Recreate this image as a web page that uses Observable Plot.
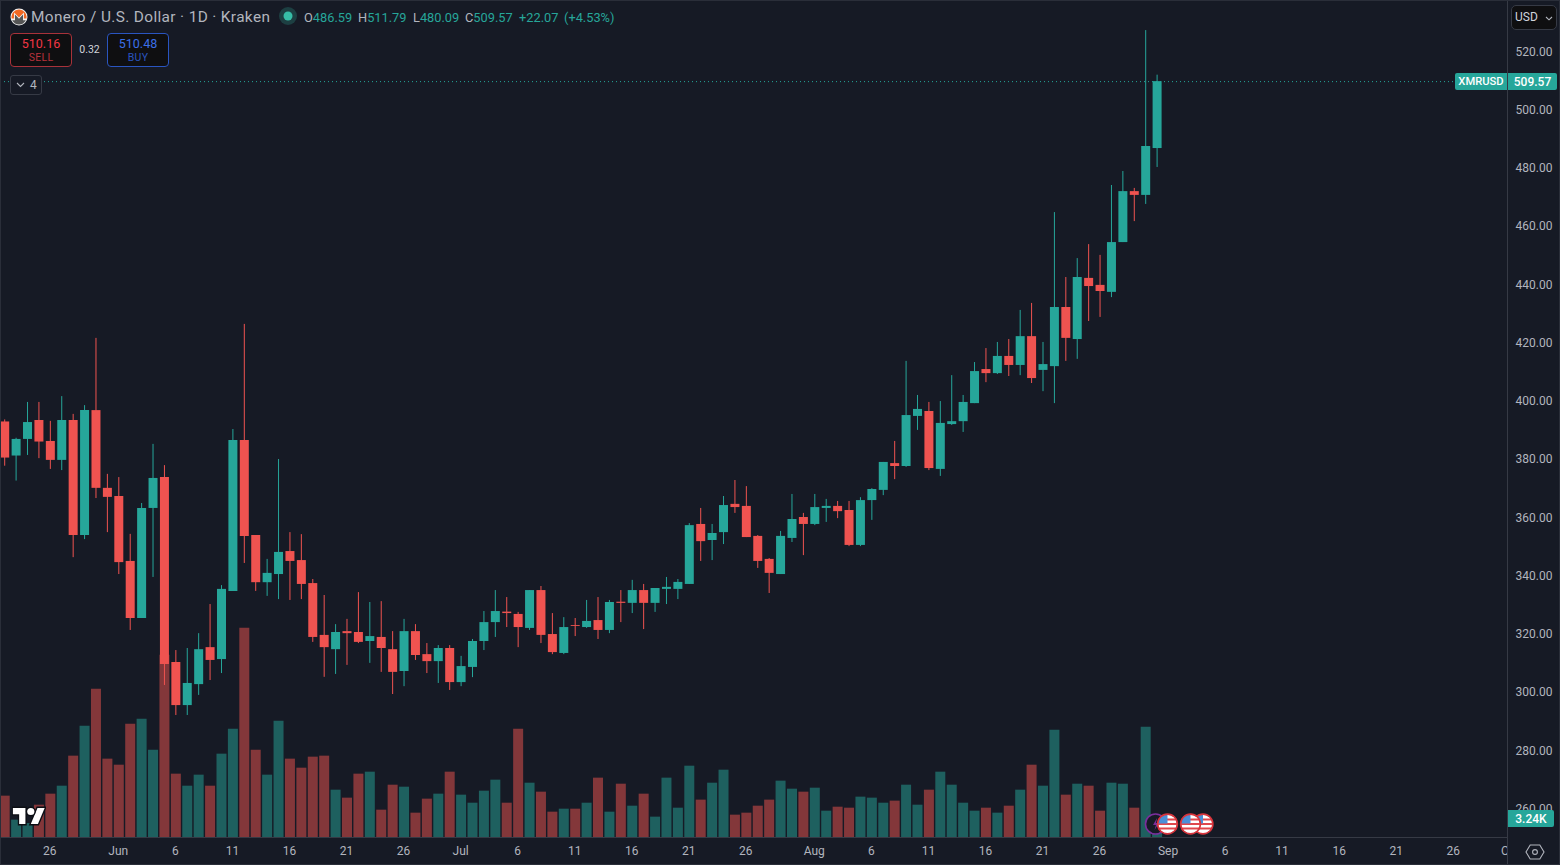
<!DOCTYPE html>
<html>
<head>
<meta charset="utf-8">
<script src="https://cdn.jsdelivr.net/npm/d3@7"></script>
<script src="https://cdn.jsdelivr.net/npm/@observablehq/plot@0.6"></script>
<style>
  html,body{margin:0;padding:0;background:#161a25;}
  #wrap{position:relative;width:1560px;height:865px;overflow:hidden;background:#161a25;font-family:Roboto,sans-serif;}
  #wrap svg.plot{display:block;}
  .abs{position:absolute;box-sizing:border-box;white-space:nowrap;}
  .btn{background:#0f0f11;border-radius:4px;text-align:center;font-size:12.5px;line-height:14px;padding-top:3px;}
  .btn small{display:block;font-size:10.5px;line-height:13px;letter-spacing:.3px;}
  .g{color:#26a69a}
  .ohlc{font-size:12.8px;line-height:17px;top:9px;color:#b2b5be;}
  .chip{background:#26a69a;color:#fff;font-size:12px;font-weight:500;display:flex;align-items:center;justify-content:center;}
</style>
</head>
<body>
<div id="wrap"></div>
<script>
const startDay = "2025-05-22";
const lastPrice = 509.57;
const lastVolume = 3.24;
const opens = [
392.7,381.0,386.7,393.2,386.0,379.5,393.2,353.7,396.6,369.9,
367.1,344.8,325.2,363.0,373.6,310.1,295.3,302.5,315.2,311.1,
334.5,386.3,353.7,337.5,340.3,348.2,345.1,337.2,319.4,314.5,
320.7,320.4,317.3,318.7,314.5,307.0,320.7,312.8,310.4,314.9,
303.2,308.4,317.3,323.8,327.4,326.6,321.8,334.8,319.7,313.2,
322.8,322.1,324.5,321.1,330.8,330.4,334.8,330.4,335.2,335.2,
336.9,357.5,352.0,354.7,364.4,363.7,353.4,345.5,340.3,352.7,
359.9,357.5,363.0,363.7,362.3,350.3,365.7,369.2,378.4,377.4,
394.6,396.3,376.4,391.8,392.8,399.0,410.7,409.3,415.2,412.1,
422.0,410.4,411.7,432.0,421.0,442.0,439.6,437.2,454.3,471.8,
470.5,486.59];
const highs = [
393.4,387.1,399.4,399.4,392.9,401.4,395.3,398.3,421.4,374.7,
373.6,354.1,364.7,385.0,377.7,314.2,314.9,320.0,330.0,336.5,
390.1,426.2,353.7,345.5,379.8,354.7,354.0,338.6,333.1,323.1,
324.9,334.1,330.7,331.0,320.7,324.9,323.1,316.6,315.9,315.9,
312.2,318.0,327.6,334.8,332.4,327.3,334.8,336.2,326.9,325.5,
325.2,331.4,332.4,331.4,334.8,338.3,336.9,335.5,339.3,338.6,
357.8,363.0,357.5,367.1,372.6,370.5,353.7,345.8,355.1,367.8,
361.3,367.8,366.1,365.4,365.4,366.7,369.8,378.8,386.0,413.5,
401.8,399.4,399.7,408.6,401.8,413.1,417.9,420.0,421.0,431.0,
433.4,420.0,464.6,442.3,448.8,453.6,449.9,473.9,478.7,472.9,
527.1,511.79];
const lows = [
377.5,372.4,381.2,380.1,376.4,376.0,346.1,352.3,366.4,354.7,
340.3,321.1,325.2,339.3,302.2,291.9,291.9,298.8,303.9,306.3,
334.5,344.1,334.5,332.8,331.7,331.4,331.7,317.0,305.0,306.0,
309.1,316.6,309.8,306.7,299.1,301.8,310.8,306.3,302.9,300.5,
301.8,304.9,314.2,318.7,322.1,315.2,321.1,316.6,312.8,312.8,
319.0,321.8,318.0,320.0,323.8,326.9,321.4,327.3,330.0,331.7,
336.9,344.8,345.1,350.6,361.3,353.0,342.4,333.8,340.3,351.3,
346.8,357.1,358.2,359.5,349.9,349.9,358.9,367.4,372.9,377.1,
389.8,376.0,374.0,391.5,389.1,399.0,406.2,409.0,408.3,408.6,
405.9,403.1,399.0,413.5,414.2,427.2,428.6,435.4,454.3,461.5,
467.4,480.09];
const closes = [
380.3,386.7,392.5,385.8,379.5,393.2,353.7,396.6,369.9,366.8,
344.4,325.2,363.0,373.3,309.4,295.3,302.9,314.5,310.8,335.2,
386.3,353.4,337.5,340.7,347.9,344.8,336.9,318.7,315.2,320.4,
320.0,317.0,319.0,314.9,306.7,320.7,312.5,310.4,314.9,303.2,
308.7,317.3,323.8,327.6,326.9,322.1,334.8,319.4,313.5,322.1,
322.5,324.2,321.1,330.7,330.4,334.8,330.4,335.5,335.9,337.6,
357.1,351.6,354.4,364.0,363.3,353.0,344.8,340.7,353.4,359.2,
357.5,363.3,363.7,361.9,350.3,365.7,369.5,378.8,377.4,394.9,
397.0,376.7,392.2,392.8,399.4,410.0,409.3,415.2,412.1,422.0,
407.6,412.4,432.0,421.4,442.3,439.2,437.5,454.3,471.8,470.5,
487.3,509.57];
const volumesK = [
7.05,2.96,2.39,5.51,7.39,8.75,13.87,18.98,25.29,13.36,
12.33,19.33,20.18,14.89,31.09,10.80,8.75,10.63,8.75,14.21,
18.47,35.70,14.89,10.63,19.84,13.36,11.82,13.70,13.87,8.07,
6.71,10.80,11.14,4.66,8.92,8.58,4.15,6.54,7.39,11.14,
7.22,5.85,7.90,9.78,5.85,18.47,9.26,7.73,4.32,4.83,
4.83,5.85,10.12,4.32,9.09,5.34,7.39,3.47,10.12,5.00,
12.16,6.37,9.26,11.48,3.81,4.15,5.34,6.37,9.61,8.24,
7.73,8.41,4.49,5.17,5.00,6.88,6.71,5.85,6.20,8.92,
5.51,8.07,11.14,8.92,5.85,4.49,5.00,4.15,5.34,8.07,
12.33,8.75,18.30,7.22,9.09,8.75,4.49,9.26,9.09,5.00,
18.81,3.24];
const priceTicks = [260,280,300,320,340,360,380,400,420,440,460,480,500,520];
const xTickDays = ["05-26","06-01","06-06","06-11","06-16","06-21","06-26","07-01","07-06","07-11","07-16","07-21","07-26","08-01","08-06","08-11","08-16","08-21","08-26","09-01","09-06","09-11","09-16","09-21","09-26","10-01"];
const xTickLabels = ["26","Jun","6","11","16","21","26","Jul","6","11","16","21","26","Aug","6","11","16","21","26","Sep","6","11","16","21","26","Oct"];

const GREEN = "#26a69a", RED = "#ef5350", BG = "#161a25", LINE = "#363a45", TEXT = "#b2b5be";
const DAY = 864e5;
const firstDay = new Date(startDay + "T00:00:00Z");
const junFirst = Date.UTC(2025, 5, 1);
const domainStart = new Date(junFirst - 10.368 * DAY);
const domainEnd = new Date(junFirst + 121.71 * DAY);
const priceFloor = 250, priceCeil = 537.43;
const priceUnitsPerK = 2.014;   // volume pane shares the price axis

const bars = opens.map((o, i) => ({
  date: new Date(+firstDay + i * DAY),
  open: o, high: highs[i], low: lows[i], close: closes[i], vol: volumesK[i],
  up: closes[i] >= o
}));
const tickDates = xTickDays.map(s => new Date("2025-" + s + "T00:00:00Z"));
const tickLabel = new Map(tickDates.map((d, i) => [+d, xTickLabels[i]]));
const col = d => d.up ? GREEN : RED;

const chart = Plot.plot({
  width: 1560, height: 865,
  marginLeft: 0, marginRight: 53, marginTop: 0, marginBottom: 28,
  style: {background: BG, color: TEXT, fontFamily: "Roboto, sans-serif", fontSize: "12px"},
  x: {type: "utc", domain: [domainStart, domainEnd]},
  y: {domain: [priceFloor, priceCeil]},
  marks: [
    Plot.ruleX(bars, {x: "date", y1: priceFloor, y2: d => priceFloor + d.vol * priceUnitsPerK,
      stroke: col, strokeOpacity: 0.5, strokeWidth: 10}),
    Plot.ruleY([lastPrice], {stroke: GREEN, strokeDasharray: "1,3", strokeWidth: 1}),
    Plot.ruleX(bars, {x: "date", y1: "low", y2: "high", stroke: col, strokeWidth: 1}),
    Plot.ruleX(bars, {x: "date", y1: "open", y2: "close", stroke: col, strokeWidth: 9}),
    Plot.ruleY([priceFloor], {stroke: LINE, strokeWidth: 1}),
    Plot.ruleX([domainEnd], {y1: priceFloor, y2: priceCeil, stroke: LINE, strokeWidth: 1}),
    Plot.axisX({ticks: tickDates, tickFormat: d => tickLabel.get(+d), tickSize: 0, tickPadding: 9, label: null, fill: TEXT, dx: -0.5}),
    Plot.axisY({anchor: "right", ticks: priceTicks, tickFormat: d => d.toFixed(2), tickSize: 0, tickPadding: 8, label: null, fill: TEXT, dy: 0.6})
  ]
});

const wrap = document.getElementById("wrap");
wrap.appendChild(chart);
const yPx = chart.scale("y").apply(lastPrice);

const overlay = `
<div class="abs" style="left:1508px;top:838px;width:52px;height:27px;background:${BG}"></div>
<div class="abs" style="left:1507px;top:837px;width:1px;height:28px;background:${LINE}"></div>

<svg class="abs" style="left:10px;top:8px" width="18" height="18" viewBox="0 0 18 18">
  <circle cx="9" cy="9" r="8.5" fill="#f2f2f2"/>
  <path d="M2.2 12.2H5V6.6L9 10.8l4-4.2v5.6h2.8A8 8 0 0 1 9 16.5a8 8 0 0 1-6.8-4.3z" fill="#555"/>
  <path d="M9 1.5A7.5 7.5 0 0 0 1.6 10.5H4.1V4.4L9 9.4l4.9-5v6.1h2.5A7.5 7.5 0 0 0 9 1.5z" fill="#f26822"/>
</svg>
<div class="abs" style="left:31px;top:8px;font-size:15.4px;letter-spacing:.36px;line-height:19px;color:${TEXT}">Monero / U.S. Dollar · 1D · Kraken</div>
<svg class="abs" style="left:278px;top:6px" width="20" height="20"><circle cx="10" cy="10" r="9" fill="#1d3f42"/><circle cx="10" cy="10" r="4.5" fill="#37bda7"/></svg>
<div class="abs ohlc" style="left:304px">O<span class="g">486.59</span></div>
<div class="abs ohlc" style="left:358px">H<span class="g">511.79</span></div>
<div class="abs ohlc" style="left:413px">L<span class="g">480.09</span></div>
<div class="abs ohlc" style="left:465px">C<span class="g">509.57</span></div>
<div class="abs ohlc g" style="left:519px;color:#26a69a">+22.07</div>
<div class="abs ohlc g" style="left:564px;color:#26a69a">(+4.53%)</div>

<div class="abs btn" style="left:10px;top:33px;width:62px;height:34px;border:1px solid #a8323a;color:#f23645">510.16<small style="color:#b8323c">SELL</small></div>
<div class="abs" style="left:72px;top:44px;width:35px;text-align:center;font-size:10.5px;line-height:12px;color:#d1d4dc">0.32</div>
<div class="abs btn" style="left:107px;top:33px;width:62px;height:34px;border:1px solid #2a55c0;color:#2962ff"><span style="color:#3b6fe8">510.48</span><small style="color:#2a55c0">BUY</small></div>

<div class="abs" style="left:10px;top:75px;width:32px;height:20px;background:${BG};border:1px solid #363a45;border-radius:3px"></div>
<svg class="abs" style="left:15px;top:80px" width="12" height="10"><path d="M2 3l3.5 3.5L9 3" stroke="${TEXT}" fill="none" stroke-width="1.1"/></svg>
<div class="abs" style="left:30px;top:76px;font-size:12px;line-height:18px;color:${TEXT}">4</div>

<div class="abs" style="left:1511px;top:5px;width:46px;height:25px;background:#0f0f11;border:1px solid #363a45;border-radius:5px;font-size:12px;line-height:23px;color:#d1d4dc;padding-left:3px">USD</div>
<svg class="abs" style="left:1544px;top:13px" width="10" height="10"><path d="M2 4l3 2.8L8 4" stroke="${TEXT}" fill="none" stroke-width="1.1"/></svg>

<div class="abs chip" style="left:1455px;top:${yPx - 8}px;width:52px;height:17px;border-radius:2px 0 0 2px;font-size:11.2px">XMRUSD</div>
<div class="abs chip" style="left:1508px;top:${yPx - 8}px;width:49px;height:17px;border-radius:0 2px 2px 0">509.57</div>
<div class="abs chip" style="left:1508px;top:810px;width:46px;height:17px;border-radius:0 2px 2px 0">${lastVolume.toFixed(2)}K</div>

<svg class="abs" style="left:1525px;top:842px" width="20" height="20" viewBox="0 0 20 20"><path d="M5.2 3h9.6L19 10l-4.2 7H5.2L1 10z" fill="none" stroke="${TEXT}" stroke-width="1.1"/><circle cx="10" cy="10" r="2.4" fill="none" stroke="${TEXT}" stroke-width="1.1"/></svg>

<svg class="abs" style="left:12px;top:805px" width="34" height="22" viewBox="-1 -1 38 24">
  <g fill="#fff" stroke="#0c0e14" stroke-width="3" paint-order="stroke">
    <path d="M14 20H7V9H0V2h14v18z"/><path d="M28 20h-8l7.5-18h8L28 20z"/><circle cx="20" cy="6" r="4"/>
  </g>
</svg>

<svg class="abs" style="left:1140px;top:810px" width="80" height="28" viewBox="0 0 80 28">
  <defs>
    <g id="flag">
      <circle r="9.5" fill="#fff"/>
      <path d="M-9 -4.5H9M-9.4 0H9.4M-9 4.5H9" stroke="#e0474c" stroke-width="2.1"/>
      <path d="M-9.5 -0.5A9.5 9.5 0 0 1 0 -9.5V-0.5z" fill="#4a8fd8"/>
      <circle r="9.9" fill="none" stroke="#d8343c" stroke-width="1.6"/>
    </g>
  </defs>
  <circle cx="15.5" cy="14" r="10" fill="#161a25" stroke="#7a2f9c" stroke-width="1.6"/>
  <path d="M17 8l-4 7h3l-1.5 5 4.5-7h-3z" fill="#7a2f9c"/>
  <use href="#flag" x="63" y="14"/>
  <use href="#flag" x="50.5" y="14"/>
  <use href="#flag" x="27.5" y="14"/>
</svg>
<div class="abs" style="left:0;top:0;width:1560px;height:865px;border:1px solid #2a2e39;pointer-events:none"></div>
`;
wrap.insertAdjacentHTML("beforeend", overlay);
</script>
</body>
</html>
